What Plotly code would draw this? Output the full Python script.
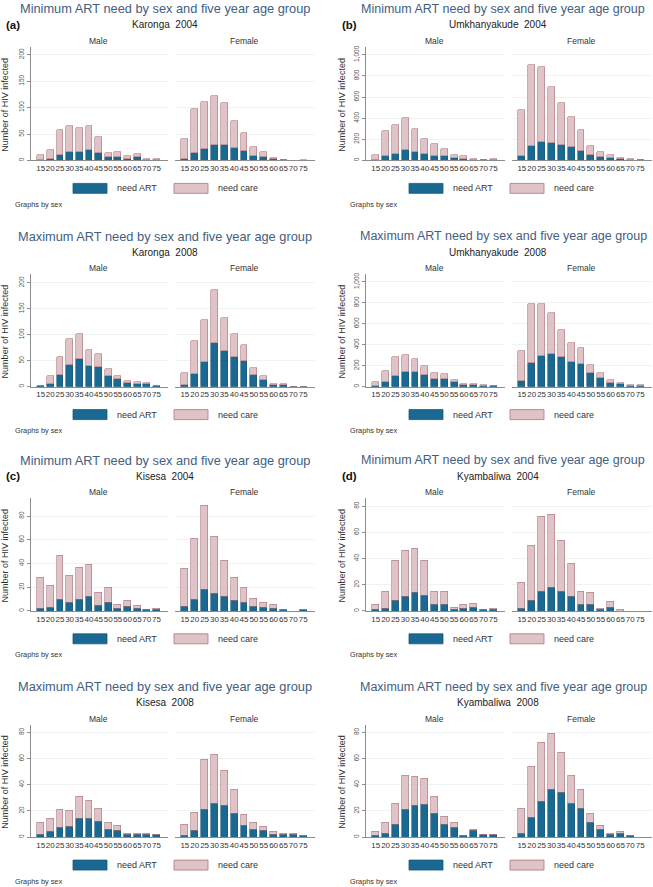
import plotly.graph_objects as go

# five year age groups (shared by every panel)
AGES = [15, 20, 25, 30, 35, 40, 45, 50, 55, 60, 65, 70, 75]
AGE_LABELS = [str(a) for a in AGES]

# (a) Karonga 2004, minimum need
karonga_2004_male_art = [1, 3, 11, 16, 17, 21, 15, 6, 7, 4, 6, 1, 1]
karonga_2004_male_care = [10, 18, 47, 50, 44, 45, 30, 9, 10, 5, 7, 2, 3]
karonga_2004_female_art = [4, 15, 22, 30, 30, 24, 18, 9, 6, 4, 1, 0, 0]
karonga_2004_female_care = [36, 83, 88, 93, 79, 51, 35, 16, 10, 1, 0, 0, 1]

# (b) Umkhanyakude 2004, minimum need
umkh_2004_male_art = [5, 44, 66, 98, 79, 60, 48, 41, 25, 19, 8, 5, 6]
umkh_2004_male_care = [52, 234, 269, 307, 218, 143, 113, 70, 29, 25, 8, 4, 9]
umkh_2004_female_art = [47, 136, 177, 168, 149, 127, 95, 51, 32, 22, 13, 6, 4]
umkh_2004_female_care = [431, 766, 709, 532, 392, 288, 193, 91, 53, 32, 15, 10, 6]

# Karonga 2008, maximum need
karonga_2008_male_art = [1, 5, 22, 42, 53, 39, 38, 21, 14, 7, 6, 6, 1]
karonga_2008_male_care = [1, 15, 36, 50, 49, 31, 25, 12, 7, 3, 2, 1, 1]
karonga_2008_female_art = [3, 25, 48, 84, 68, 58, 49, 22, 13, 4, 4, 0, 0]
karonga_2008_female_care = [24, 62, 80, 102, 65, 44, 31, 13, 7, 2, 2, 0, 0]

# Umkhanyakude 2008, maximum need
umkh_2008_male_art = [9, 41, 104, 136, 136, 108, 76, 76, 47, 19, 16, 10, 4]
umkh_2008_male_care = [32, 108, 178, 165, 130, 91, 51, 47, 19, 6, 6, 3, 2]
umkh_2008_female_art = [51, 225, 297, 316, 278, 234, 218, 133, 79, 38, 22, 8, 8]
umkh_2008_female_care = [288, 566, 494, 383, 260, 184, 146, 73, 48, 22, 10, 5, 5]

# (c) Kisesa 2004, minimum need
kisesa_2004_male_art = [2, 3, 10, 7, 10, 12, 5, 7, 2, 4, 2, 1, 1]
kisesa_2004_male_care = [26, 19, 37, 23, 27, 27, 11, 13, 4, 5, 3, 0, 1]
kisesa_2004_female_art = [4, 10, 18, 15, 12, 9, 7, 4, 3, 2, 1, 0, 1]
kisesa_2004_female_care = [32, 51, 71, 48, 31, 19, 13, 7, 4, 4, 0, 0, 0]

# (d) Kyambaliwa 2004, minimum need
kyamb_2004_male_art = [1, 2, 8, 11, 14, 12, 5, 5, 1, 2, 3, 1, 1]
kyamb_2004_male_care = [4, 13, 31, 35, 34, 27, 10, 10, 2, 3, 3, 0, 1]
kyamb_2004_female_art = [2, 8, 15, 18, 15, 11, 5, 5, 1, 3, 0, 0, 0]
kyamb_2004_female_care = [20, 42, 57, 56, 39, 25, 10, 9, 1, 4, 1, 0, 0]

# Kisesa 2008, maximum need
kisesa_2008_male_art = [2, 4, 7, 8, 14, 14, 12, 6, 5, 2, 2, 2, 2]
kisesa_2008_male_care = [9, 10, 14, 12, 17, 14, 10, 5, 4, 1, 1, 1, 0]
kisesa_2008_female_art = [1, 5, 21, 26, 24, 18, 9, 6, 5, 2, 2, 2, 1]
kisesa_2008_female_care = [9, 14, 38, 37, 27, 18, 8, 5, 3, 2, 1, 1, 0]

# Kyambaliwa 2008, maximum need
kyamb_2008_male_art = [1, 3, 10, 21, 24, 25, 18, 10, 7, 1, 5, 2, 2]
kyamb_2008_male_care = [3, 8, 16, 26, 22, 20, 13, 6, 4, 0, 1, 0, 0]
kyamb_2008_female_art = [3, 15, 27, 36, 34, 26, 22, 11, 6, 2, 3, 1, 0]
kyamb_2008_female_care = [19, 39, 45, 43, 31, 21, 14, 7, 3, 1, 1, 0, 0]

TITLE_MIN = "Minimum ART need by sex and five year age group"
TITLE_MAX = "Maximum ART need by sex and five year age group"

panels = [
    dict(title=TITLE_MIN, place="Karonga  2004", tag="(a)", row=0, col=0,
         yticks=[0, 50, 100, 150, 200], ymax=215,
         m=(karonga_2004_male_art, karonga_2004_male_care),
         f=(karonga_2004_female_art, karonga_2004_female_care)),
    dict(title=TITLE_MIN, place="Umkhanyakude  2004", tag="(b)", row=0, col=1,
         yticks=[0, 200, 400, 600, 800, 1000], ymax=1075,
         m=(umkh_2004_male_art, umkh_2004_male_care),
         f=(umkh_2004_female_art, umkh_2004_female_care)),
    dict(title=TITLE_MAX, place="Karonga  2008", tag="", row=1, col=0,
         yticks=[0, 50, 100, 150, 200], ymax=217,
         m=(karonga_2008_male_art, karonga_2008_male_care),
         f=(karonga_2008_female_art, karonga_2008_female_care)),
    dict(title=TITLE_MAX, place="Umkhanyakude  2008", tag="", row=1, col=1,
         yticks=[0, 200, 400, 600, 800, 1000], ymax=1075,
         m=(umkh_2008_male_art, umkh_2008_male_care),
         f=(umkh_2008_female_art, umkh_2008_female_care)),
    dict(title=TITLE_MIN, place="Kisesa  2004", tag="(c)", row=2, col=0,
         yticks=[0, 20, 40, 60, 80], ymax=95,
         m=(kisesa_2004_male_art, kisesa_2004_male_care),
         f=(kisesa_2004_female_art, kisesa_2004_female_care)),
    dict(title=TITLE_MIN, place="Kyambaliwa  2004", tag="(d)", row=2, col=1,
         yticks=[0, 20, 40, 60, 80], ymax=86,
         m=(kyamb_2004_male_art, kyamb_2004_male_care),
         f=(kyamb_2004_female_art, kyamb_2004_female_care)),
    dict(title=TITLE_MAX, place="Kisesa  2008", tag="", row=3, col=0,
         yticks=[0, 20, 40, 60, 80], ymax=86,
         m=(kisesa_2008_male_art, kisesa_2008_male_care),
         f=(kisesa_2008_female_art, kisesa_2008_female_care)),
    dict(title=TITLE_MAX, place="Kyambaliwa  2008", tag="", row=3, col=1,
         yticks=[0, 20, 40, 60, 80], ymax=86,
         m=(kyamb_2008_male_art, kyamb_2008_male_care),
         f=(kyamb_2008_female_art, kyamb_2008_female_care)),
]

W, H = 653, 887
FONT = "Liberation Sans, Arial, sans-serif"
ART_FILL, ART_LINE = "#1b6890", "#15587c"
CARE_FILL, CARE_LINE = "#dfc3c7", "#a8767d"
TITLE_COL = "#43607f"
AXIS_COL = "#8c8c8c"
GRID_COL = "#eef3f5"

# pixel geometry of the 2 x 4 grid
ROW_TOP = [45, 273, 498, 725]
ROW_BOT = [159, 386, 611, 838]


def fx(px):
    return px / W


def fy(py):
    return 1 - py / H


fig = go.Figure()
annotations = []
shapes = []
layout = {}


def text(x, y, s, size, color="#333333", xanchor="center", angle=0, bold=False):
    annotations.append(dict(
        x=fx(x), y=fy(y), xref="paper", yref="paper", text=f"<b>{s}</b>" if bold else s,
        showarrow=False, xanchor=xanchor, yanchor="middle", textangle=angle,
        font=dict(family=FONT, size=size, color=color)))


for p, pan in enumerate(panels):
    right = pan["col"] == 1
    top, bot = ROW_TOP[pan["row"]], ROW_BOT[pan["row"]]
    spans = [(366, 505), (512, 652)] if right else [(31, 168), (175, 315)]
    for k, (sex, (art, care)) in enumerate([("Male", pan["m"]), ("Female", pan["f"])]):
        n = 2 * p + k + 1
        sfx = "" if n == 1 else str(n)
        x0, x1 = spans[k]
        fig.add_trace(go.Bar(x=AGES, y=art, width=3.5, xaxis="x" + sfx, yaxis="y" + sfx,
                             marker=dict(color=ART_FILL, line=dict(color=ART_LINE, width=0.6)),
                             name="need ART", hoverinfo="x+y"))
        fig.add_trace(go.Bar(x=AGES, y=care, width=3.5, xaxis="x" + sfx, yaxis="y" + sfx,
                             marker=dict(color=CARE_FILL, line=dict(color=CARE_LINE, width=0.6)),
                             name="need care", hoverinfo="x+y"))
        layout["xaxis" + sfx] = dict(
            domain=[fx(x0), fx(x1)], anchor="y" + sfx, range=[10, 81],
            tickvals=AGES, ticktext=AGE_LABELS, ticks="", tickangle=0,
            showgrid=False, zeroline=False,
            showline=True, linecolor=AXIS_COL, linewidth=1,
            tickfont=dict(family=FONT, size=8, color="#333333"))
        ya = dict(
            domain=[fy(bot), fy(top)], anchor="x" + sfx, range=[0, pan["ymax"]],
            tickvals=pan["yticks"], tickformat=",", showgrid=True, gridcolor=GRID_COL,
            gridwidth=1, zeroline=False)
        if k == 0:
            ya.update(showline=True, linecolor=AXIS_COL, linewidth=1, ticks="outside",
                      ticklen=3, tickcolor=AXIS_COL, tickangle=-90, showticklabels=True,
                      tickfont=dict(family=FONT, size=6.5, color="#555555"))
        else:
            ya.update(showline=False, ticks="", showticklabels=False)
        layout["yaxis" + sfx] = ya
        text((x0 + x1) / 2 - 1, top - 6, sex, 8.5)

    if right:
        text(503, top - 38, pan["title"], 12.5, TITLE_COL)
    else:
        text(165, top - 38, pan["title"], 12.8, TITLE_COL)
    text(498 if right else 165, top - 22, pan["place"], 10, "#222222")
    if pan["tag"]:
        text(340 if right else 4, top - 22, pan["tag"], 11.5, "#111111",
             xanchor="left", bold=True)
    text(342 if right else 5, (top + bot) / 2 + 1, "Number of HIV infected",
         9, "#333333", angle=-90)

    # legend
    ly = bot + 28
    lx = [409, 510] if right else [73, 174]
    for j, (lab, fill, line) in enumerate([("need ART", ART_FILL, ART_LINE),
                                           ("need care", CARE_FILL, CARE_LINE)]):
        shapes.append(dict(type="rect", xref="paper", yref="paper",
                           x0=fx(lx[j]), x1=fx(lx[j] + 34), y0=fy(ly + 5), y1=fy(ly - 5),
                           fillcolor=fill, line=dict(color=line, width=0.8)))
        text(lx[j] + 42, ly, lab, 9, "#333333", xanchor="left")
    text(348 if right else 13, bot + 44, "Graphs by sex", 7.3, "#333333", xanchor="left")

fig.update_layout(
    width=W, height=H, margin=dict(l=0, r=0, t=0, b=0),
    paper_bgcolor="white", plot_bgcolor="white", barmode="stack", bargap=0,
    showlegend=False, annotations=annotations, shapes=shapes, **layout)

fig.write_html("out.html", config={"displayModeBar": False},
               post_script="document.body.style.margin='0';")
